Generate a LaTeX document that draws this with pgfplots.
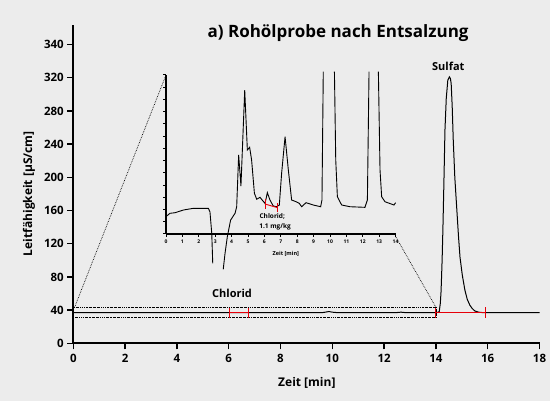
\documentclass[border=0pt]{standalone}
\usepackage{fontspec}
\setmainfont{Open Sans}
\usepackage{pgfplots}
\pgfplotsset{compat=1.18}
\definecolor{bg}{RGB}{236,236,236}
\definecolor{mred}{RGB}{230,0,10}
\begin{document}
\begin{tikzpicture}
\fill[bg] (0pt,0pt) rectangle (550pt,401pt);
\useasboundingbox (0pt,0pt) rectangle (550pt,401pt);

% ---------------- main axis ----------------
\begin{axis}[
  at={(73.3pt,57.7pt)}, anchor=south west,
  scale only axis, width=466.2pt, height=318.3pt,
  xmin=0, xmax=18, ymin=0, ymax=383.5,
  axis lines=left, axis line style={-, line width=1.8pt},
  tick style={line width=1.5pt, black},
  tick align=outside, major tick length=6pt,
  xtick={0,2,...,18},
  ytick={0,40,...,360},
  yticklabels={0,40,80,120,160,200,240,280,320,340},
  /pgf/number format/assume math mode=true,
  ticklabel style={font=\bfseries\fontsize{11.5}{12}\selectfont},
  xticklabel style={yshift=-1pt},
  xlabel={Zeit [min]},
  ylabel={Leitfähigkeit [µS/cm]},
  label style={font=\bfseries\fontsize{12}{13}\selectfont},
  xlabel style={at={(axis description cs:0.501,-0.125)}, anchor=center},
  ylabel style={at={(axis description cs:-0.095,0.47)}, anchor=center},
  clip=false,
]
\addplot[black, line width=1pt] coordinates {
 (0,36.9) (9.6,36.9) (9.75,37.6) (9.87,38.3) (10.0,37.5) (10.2,36.9)
 (12.45,36.9) (12.65,37.5) (12.85,36.9)
 (13.96,36.9) (14.08,37.2) (14.13,38.5) (14.17,48) (14.2,63) (14.24,100) (14.27,137) (14.31,195) (14.35,257)
 (14.4,295) (14.46,317) (14.52,321) (14.56,319) (14.59,313) (14.63,285) (14.67,245)
 (14.73,200) (14.8,165) (14.87,130) (14.93,104) (15.02,82) (15.12,64) (15.21,53) (15.31,46)
 (15.4,42) (15.5,39) (15.65,37.5) (15.83,36.9) (18,36.9)
};
% integration marks
\addplot[mred, line width=1pt] coordinates {(6.02,36.9) (6.78,36.9)};
\addplot[mred, line width=1pt] coordinates {(6.02,30.5) (6.02,43.5)};
\addplot[mred, line width=1pt] coordinates {(6.78,30.5) (6.78,43.5)};
\addplot[mred, line width=1pt] coordinates {(13.97,36.9) (15.9,36.9)};
\addplot[mred, line width=1pt] coordinates {(13.97,30.5) (13.97,43.5)};
\addplot[mred, line width=1pt] coordinates {(15.9,30.5) (15.9,43.5)};
% zoom frame
\draw[line width=0.6pt, dash pattern=on 1.8pt off 0.9pt on 0.6pt off 0.9pt]
  (axis cs:0,43.4) -- (axis cs:14,43.4) -- (axis cs:14,30.8) -- (axis cs:0,30.8);
\coordinate (mTL) at (axis cs:0.05,43.4);
\coordinate (mTR) at (axis cs:14,43.4);
\node[font=\bfseries\fontsize{11}{12}\selectfont] at (axis cs:6.13,60.6) {Chlorid};
\node[font=\bfseries\fontsize{11}{12}\selectfont] at (axis cs:14.48,334) {Sulfat};
\node[font=\bfseries\fontsize{17}{18}\selectfont] at (axis description cs:0.568,0.975) {a) Rohölprobe nach Entsalzung};
\end{axis}

% ---------------- inset ----------------
\begin{axis}[
  at={(166pt,167pt)}, anchor=south west,
  scale only axis, width=229.6pt, height=159pt,
  xmin=0, xmax=14, ymin=0, ymax=13,
  axis lines=left, axis line style={-, line width=1.3pt},
  tick style={line width=1pt, black},
  tick align=outside, major tick length=3pt,
  xtick={0,...,14}, ytick={0,...,13}, yticklabels={},
  /pgf/number format/assume math mode=true,
  xticklabel style={font=\bfseries\fontsize{5}{5}\selectfont, yshift=1pt},
  xlabel={Zeit [min]},
  xlabel style={font=\bfseries\fontsize{5.5}{6}\selectfont, at={(axis description cs:0.522,-0.126)}, anchor=center},
  clip=false, unbounded coords=jump,
]
\addplot[black, line width=0.9pt] coordinates {
 (0,1.42) (0.24,1.69) (0.55,1.74) (1.06,1.96) (1.67,2.1) (2.58,2.1) (2.68,1.82)
 (2.79,0.05) (2.85,-2.4)
 (3.0,nan)
 (3.49,-2.89) (3.6,-1.58) (3.74,-0.22) (3.94,1.14) (4.21,1.69) (4.31,2.23)
 (4.43,6.46) (4.57,3.92) (4.8,11.77) (4.96,6.87) (5.1,7.09) (5.22,6.05)
 (5.39,3.33) (5.53,2.84) (5.73,3.0) (5.9,2.72) (6.04,2.5) (6.18,3.38)
 (6.34,2.78) (6.54,2.29) (6.75,2.23) (6.91,2.37) (7.05,4.96) (7.26,7.96)
 (7.46,5.23) (7.66,2.78) (7.93,2.64) (8.13,2.5) (8.27,2.23) (8.54,2.56)
 (8.98,2.37) (9.43,2.23) (9.51,2.78) (9.59,13.27)
 (9.9,nan)
 (10.27,13.27) (10.35,6.05) (10.45,3.05) (10.71,2.37) (11.22,2.23) (12.13,2.18)
 (12.28,2.78) (12.38,13.27)
 (12.7,nan)
 (12.95,13.27) (13.05,5.23) (13.15,3.05) (13.35,2.64) (13.9,2.37) (14.0,2.56)
};
\addplot[mred, line width=0.9pt] coordinates {(6.04,2.45) (6.8,2.15)};
\addplot[mred, line width=0.9pt] coordinates {(6.04,2.07) (6.04,2.83)};
\addplot[mred, line width=0.9pt] coordinates {(6.8,1.77) (6.8,2.53)};
\node[font=\bfseries\fontsize{6.5}{7}\selectfont] at (axis cs:6.48,1.47) {Chlorid;};
\node[font=\bfseries\fontsize{6.5}{7}\selectfont] at (axis cs:6.65,0.6) {1.1 mg/kg};
\coordinate (iTL) at (axis cs:0,13);
\coordinate (iBR) at (axis cs:14,-0.2);
\end{axis}

\draw[line width=0.7pt, densely dotted] (mTL) -- (iTL);
\draw[line width=0.7pt, densely dotted] (mTR) -- (iBR);
\end{tikzpicture}
\end{document}
